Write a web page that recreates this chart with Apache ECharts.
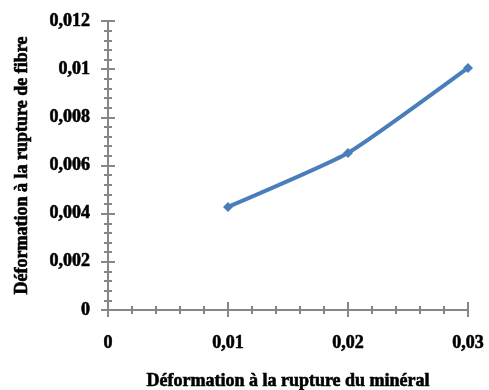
<!DOCTYPE html>
<html><head><meta charset="utf-8">
<script src="https://cdn.jsdelivr.net/npm/echarts@6/dist/echarts.min.js"></script>
<style>html,body{margin:0;padding:0;background:#fff}#c{width:489px;height:390px}</style>
</head><body><div id="c"></div>
<script>
var xValues = [0.01, 0.02, 0.03];
var yValues = [0.00428, 0.00652, 0.01005];
var xTitle = 'Déformation à la rupture du minéral';
var yTitle = 'Déformation à la rupture de fibre';

function fmt(v){ return String(+v.toFixed(4)).replace('.', ','); }
var axisCol = '#868686';
var lblFont = {fontFamily:'Liberation Serif', fontWeight:'bold', fontSize:18, color:'#000',
  textBorderColor:'#000', textBorderWidth:0.6};

var chart = echarts.init(document.getElementById('c'), null, {renderer:'canvas'});
var baseX = {type:'value', min:0, max:0.03, interval:0.01,
  axisLine:{show:true, onZero:false, lineStyle:{color:axisCol, width:2}},
  splitLine:{show:false}};
var baseY = {type:'value', min:0, max:0.012, interval:0.002,
  axisLine:{show:true, onZero:false, lineStyle:{color:axisCol, width:2}},
  splitLine:{show:false}};
chart.setOption({
  animation:false,
  grid:{left:108, right:21, top:21, bottom:80, outerBoundsMode:'none', containLabel:false},
  xAxis:[
    Object.assign({}, baseX, {position:'bottom',
      axisTick:{show:true, inside:false, length:7, lineStyle:{color:axisCol, width:2}},
      minorTick:{show:true, splitNumber:5, length:4, lineStyle:{color:axisCol, width:2}},
      axisLabel:Object.assign({margin:24, formatter:fmt}, lblFont),
      name:xTitle, nameLocation:'middle', nameGap:62,
      nameTextStyle:Object.assign({}, lblFont)}),
    Object.assign({}, baseX, {position:'bottom',
      axisTick:{show:true, inside:true, length:8, lineStyle:{color:axisCol, width:2}},
      minorTick:{show:true, splitNumber:5, length:4, lineStyle:{color:axisCol, width:2}},
      axisLabel:{show:false}})
  ],
  yAxis:[
    Object.assign({}, baseY, {position:'left',
      axisTick:{show:true, inside:false, length:7, lineStyle:{color:axisCol, width:2}},
      minorTick:{show:true, splitNumber:5, length:4, lineStyle:{color:axisCol, width:2}},
      axisLabel:Object.assign({margin:18, formatter:fmt}, lblFont),
      name:yTitle, nameLocation:'middle', nameGap:77,
      nameTextStyle:Object.assign({}, lblFont)}),
    Object.assign({}, baseY, {position:'left',
      axisTick:{show:true, inside:true, length:7, lineStyle:{color:axisCol, width:2}},
      minorTick:{show:true, splitNumber:5, length:4, lineStyle:{color:axisCol, width:2}},
      axisLabel:{show:false}})
  ],
  series:[{
    type:'line', smooth:0.15,
    data: xValues.map(function(x,i){return [x, yValues[i]];}),
    symbol:'diamond', symbolSize:10,
    lineStyle:{color:'#4A7EBB', width:4},
    itemStyle:{color:'#4A7EBB'}
  }]
});
</script></body></html>
